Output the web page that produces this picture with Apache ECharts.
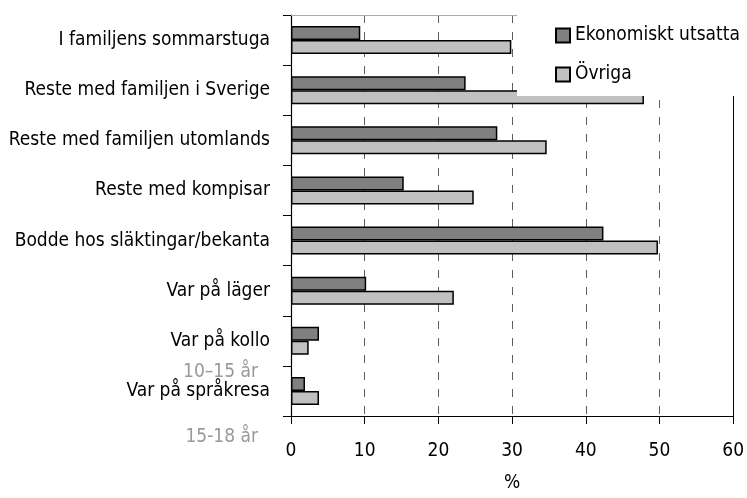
<!DOCTYPE html>
<html>
<head>
<meta charset="utf-8">
<script src="https://cdn.jsdelivr.net/npm/echarts@6/dist/echarts.min.js"></script>
<style>
  html, body { margin: 0; padding: 0; background: #fff; }
  #chart { width: 747px; height: 498px; }
</style>
</head>
<body>
<div id="chart"></div>
<script>
var categories = ['I familjens sommarstuga', 'Reste med familjen i Sverige', 'Reste med familjen utomlands',
  'Reste med kompisar', 'Bodde hos släktingar/bekanta', 'Var på läger', 'Var på kollo', 'Var på språkresa'];
var utsatta = [9.4, 23.7, 28.0, 15.3, 42.4, 10.2, 3.8, 1.9];
var ovriga = [29.9, 47.9, 34.7, 24.8, 49.8, 22.1, 2.4, 3.8];
var xTicks = [0, 10, 20, 30, 40, 50, 60];
var ageLabels = ['10–15 år', '15-18 år'];

var font = '"Liberation Sans Narrow", "DejaVu Sans Condensed", sans-serif';
var chart = echarts.init(document.getElementById('chart'));
chart.setOption({
  animation: false,
  textStyle: { fontFamily: font },
  grid: { left: 291, right: 10, top: 15, bottom: 78 },
  legend: {
    orient: 'vertical', left: 517, top: 0,
    padding: [26, 20, 12, 38], itemGap: 20,
    backgroundColor: '#fff',
    icon: 'rect', itemWidth: 14, itemHeight: 14,
    textStyle: { fontFamily: font, fontSize: 19, color: '#000' },
    data: ['Ekonomiskt utsatta', 'Övriga']
  },
  xAxis: [{
    type: 'value', min: xTicks[0], max: xTicks[xTicks.length - 1], interval: 10,
    name: '%', nameLocation: 'middle', nameGap: 58,
    nameTextStyle: { fontFamily: font, fontSize: 19, color: '#000' },
    axisLine: { show: true, lineStyle: { color: '#000' } },
    axisTick: { show: true, length: 8, lineStyle: { color: '#000' } },
    axisLabel: { fontFamily: font, fontSize: 19, color: '#000', margin: 26 },
    splitLine: { show: true, lineStyle: { color: '#333', type: [8, 9], width: 0.8 } }
  }, {
    type: 'value', position: 'top', min: xTicks[0], max: xTicks[xTicks.length - 1], interval: 10,
    axisLine: { show: true, onZero: false, lineStyle: { color: '#aaa' } },
    axisTick: { show: false }, axisLabel: { show: false }, splitLine: { show: false }
  }],
  yAxis: [{
    type: 'category', inverse: true, data: categories,
    axisLine: { lineStyle: { color: '#000', width: 1.2 } },
    axisTick: { show: true, length: 8, lineStyle: { color: '#000' } },
    axisLabel: { fontFamily: font, fontSize: 19, color: '#000', margin: 21 }
  }, {
    type: 'category', inverse: true, data: categories, position: 'right',
    axisLine: { show: true, onZero: false, lineStyle: { color: '#000', width: 1 } },
    axisTick: { show: false }, axisLabel: { show: false }
  }],
  series: [
    { name: 'Ekonomiskt utsatta', type: 'bar', data: utsatta, barWidth: 14, barGap: '0%',
      itemStyle: { color: '#808080', borderColor: '#000', borderWidth: 1.5 } },
    { name: 'Övriga', type: 'bar', data: ovriga, barWidth: 14, barGap: '0%',
      itemStyle: { color: '#c0c0c0', borderColor: '#000', borderWidth: 1.5 } }
  ],
  graphic: [
    { type: 'text', right: 489, top: 363, style: { text: ageLabels[0], fontFamily: font, fontSize: 19, fill: '#999' } },
    { type: 'text', right: 489, top: 428, style: { text: ageLabels[1], fontFamily: font, fontSize: 19, fill: '#999' } }
  ]
});
</script>
</body>
</html>
